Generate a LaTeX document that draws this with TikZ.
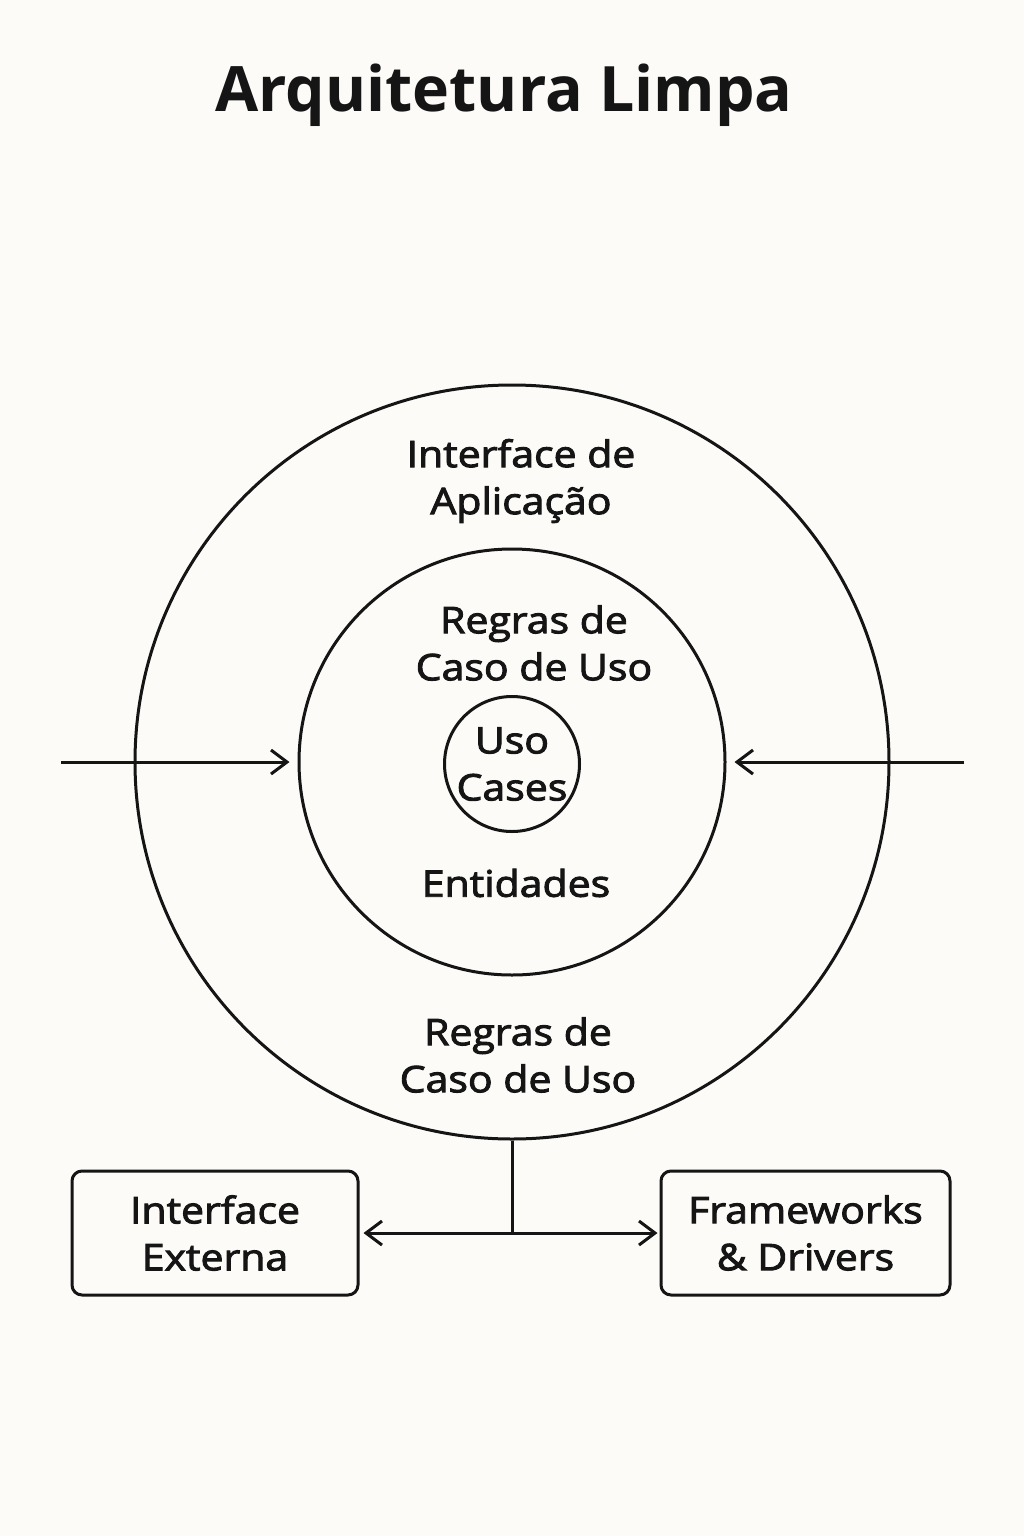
\documentclass[tikz,border=0pt]{standalone}
\usepackage{fontspec}
\setmainfont{Open Sans}
\newfontfamily\medfont[FakeStretch=1.12,FakeBold=2.6]{Open Sans}
\usetikzlibrary{arrows.meta}
\definecolor{bg}{HTML}{FCFBF8}
\definecolor{ink}{HTML}{151515}
\tikzset{
  px/.style={x=0.5pt,y=-0.5pt},
  ring/.style={circle,draw=ink,line width=1.5pt,inner sep=0pt},
  lbl/.style={text=ink,align=center,font=\medfont\fontsize{18.3}{23.5}\selectfont},
  boxnode/.style={draw=ink,line width=1.5pt,rounded corners=5pt,minimum width=143pt,minimum height=62pt,align=center,text=ink,font=\medfont\fontsize{18.3}{23.5}\selectfont},
  conn/.style={draw=ink,line width=1.5pt},
  arr/.style={conn,-{Straight Barb[length=8pt,width=12pt,line width=1.5pt]}},
}
\begin{document}
\begin{tikzpicture}[px]
\fill[bg] (0,0) rectangle (1024,1536);
\useasboundingbox (0,0) rectangle (1024,1536);
\node[text=ink,font=\fontsize{31.3}{40}\selectfont\bfseries] (title) at (504,95) {Arquitetura Limpa};
\node[ring,minimum size=377pt] (outer) at (512,762) {};
\node[ring,minimum size=213pt] (inner) at (512,762) {};
\node[ring,minimum size=67.5pt,lbl] (core) at (512,764) {Uso\\Cases};
\node[lbl] (app) at (521,481) {Interface de\\Aplicação};
\node[lbl] (rules1) at (534,643) {Regras de\\Caso de Uso};
\node[lbl] (ent) at (516,883) {Entidades};
\node[lbl] (rules2) at (518,1055) {Regras de\\Caso de Uso};
\node[boxnode] (ext) at (215,1233) {Interface\\Externa};
\node[boxnode,minimum width=144.5pt] (fw) at (805.5,1233) {Frameworks\\\& Drivers};
\coordinate (lin) at (61,762);
\coordinate (rin) at (964,762);
\coordinate (j) at (512,1233);
\draw[arr,shorten >=4pt] (lin) -- (inner.west);
\draw[arr,shorten >=4pt] (rin) -- (inner.east);
\draw[conn] (outer.south) -- (j);
\draw[arr,shorten >=2pt] (j) -- (ext.east);
\draw[arr,shorten >=1pt] (j) -- (fw.west);
\end{tikzpicture}
\end{document}
